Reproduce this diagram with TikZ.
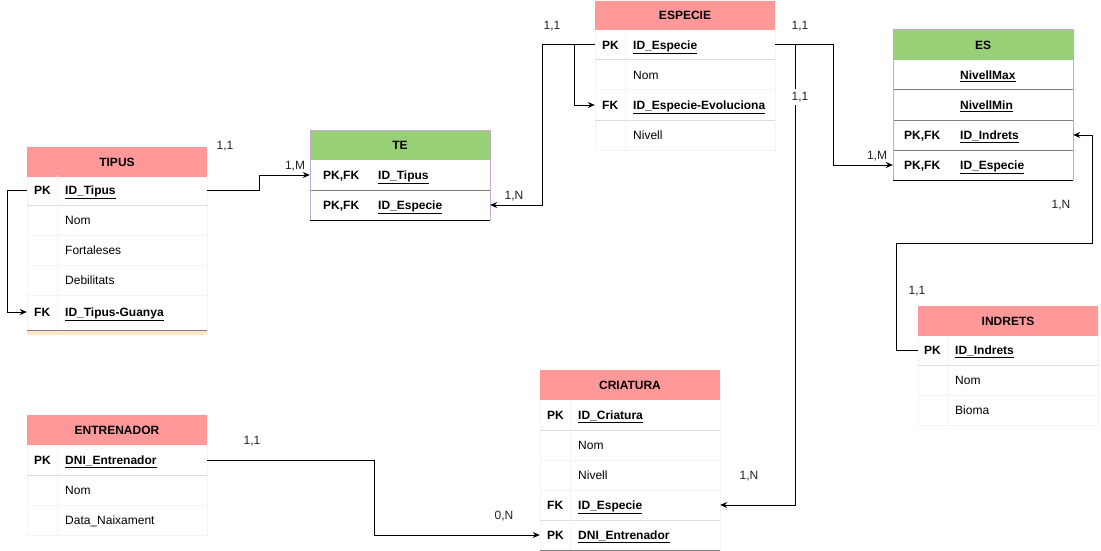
\documentclass[tikz,border=0pt]{standalone}
\usepackage{fontspec}
\setmainfont{Liberation Sans}
\usetikzlibrary{arrows.meta}
\definecolor{hdrpink}{HTML}{FF9999}
\definecolor{hdrgreen}{HTML}{97D077}
\definecolor{peach}{HTML}{FFE6CC}
\definecolor{lilac}{HTML}{C3ABD0}
\definecolor{sepgrey}{HTML}{DDDDDD}
\definecolor{faint}{HTML}{F4F4F4}
\definecolor{lbl}{HTML}{222222}
\newcommand\fs{\fontsize{12}{14}\selectfont}
\tikzset{
  rowbox/.style={rectangle, inner sep=0pt, minimum width=180pt, minimum height=30pt},
  hdrpinkbox/.style={rectangle, inner sep=0pt, minimum width=180pt, minimum height=30pt, fill=hdrpink, font=\fs\bfseries},
  hdrgreenbox/.style={rectangle, inner sep=0pt, minimum width=180pt, minimum height=30pt, fill=hdrgreen, font=\fs\bfseries},
  keytxt/.style={anchor=base west, inner sep=0pt, font=\fs\bfseries},
  valtxt/.style={anchor=base west, inner sep=0pt, font=\fs},
  conn/.style={draw=black, line width=1pt, -{Stealth[length=7pt,width=6pt]}},
  card/.style={inner sep=1pt, text=lbl, font=\fs},
  sepl/.style={draw=sepgrey, line width=1pt},
  faintl/.style={draw=faint, line width=1pt},
}
% name, left x, center y, height, key, value
\newcommand\erow[6]{%
  \node[rowbox, minimum height=#4pt] (#1) at (#2+90,#3) {};
  \node[keytxt] (#1-k) at (#2+\ko,#3+4.3) {#5};
  \node[valtxt] (#1-v) at (#2+\vo,#3+4.3) {#6};
}
\newcommand\uu[1]{\underline{\textbf{#1}}}
\begin{document}
\begin{tikzpicture}[x=1pt,y=-1pt,font=\fs]
\useasboundingbox[fill=white] (0,0) rectangle (1101,551);

%% ---------- TIPUS ----------
\def\ko{7}\def\vo{38}
\fill[peach] (27,330) rectangle (207,335);
\draw[faintl] (27,149) rectangle (207,330);
\node[hdrpinkbox] (tipus) at (117,162) {TIPUS};
\erow{tipus-pk}{27}{190}{30}{PK}{\uu{ID\_Tipus}}
\erow{tipus-nom}{27}{220}{30}{}{Nom}
\erow{tipus-fort}{27}{250}{30}{}{Fortaleses}
\erow{tipus-deb}{27}{280}{30}{}{Debilitats}
\erow{tipus-fk}{27}{312}{35}{FK}{\uu{ID\_Tipus-Guanya}}
\draw[sepl] (27,205) -- (207,205);
\draw[faintl] (27,235) -- (207,235) (27,265) -- (207,265) (27,295) -- (207,295);
\draw[faintl] (57,175) -- (57,330);
\draw[draw=gray, line width=1pt] (27,330) -- (207,330);

%% ---------- TE ----------
\def\ko{13}\def\vo{68}
\node[hdrgreenbox] (te) at (400,145) {TE};
\erow{te-t}{310}{175}{30}{PK,FK}{\uu{ID\_Tipus}}
\erow{te-e}{310}{205}{30}{PK,FK}{\uu{ID\_Especie}}
\draw[draw=gray, line width=1pt] (310,190) -- (490,190);
\draw[draw=lilac, line width=1pt] (310,220) -- (310,130) -- (490,130) -- (490,220);
\draw[draw=black, line width=1pt] (310,220) -- (490,220);

%% ---------- ESPECIE ----------
\def\ko{7}\def\vo{38}
\draw[faintl] (595,1) rectangle (775,150);
\node[hdrpinkbox, minimum height=29pt] (esp) at (685,15.5) {ESPECIE};
\erow{esp-pk}{595}{45}{30}{PK}{\uu{ID\_Especie}}
\erow{esp-nom}{595}{75}{30}{}{Nom}
\erow{esp-fk}{595}{105}{30}{FK}{\uu{ID\_Especie-Evoluciona}}
\erow{esp-niv}{595}{135}{30}{}{Nivell}
\draw[sepl] (595,60) -- (775,60) (595,120) -- (775,120);
\draw[faintl] (595,90) -- (775,90);
\draw[faintl] (625,30) -- (625,150);

%% ---------- ES ----------
\def\ko{11}\def\vo{67}
\node[hdrgreenbox] (es) at (983,45) {ES};
\erow{es-max}{893}{75}{30}{}{\uu{NivellMax}}
\erow{es-min}{893}{105}{30}{}{\uu{NivellMin}}
\erow{es-i}{893}{135}{30}{PK,FK}{\uu{ID\_Indrets}}
\erow{es-e}{893}{165}{30}{PK,FK}{\uu{ID\_Especie}}
\draw[draw=gray, line width=1pt] (893,90) -- (1073,90) (893,120) -- (1073,120) (893,150) -- (1073,150);
\draw[draw=lilac, line width=1pt] (893,180) -- (893,30) -- (1073,30) -- (1073,180);
\draw[draw=black, line width=1pt] (893,180) -- (1073,180);

%% ---------- INDRETS ----------
\def\ko{6}\def\vo{37}
\draw[faintl] (918,306) rectangle (1098,425);
\node[hdrpinkbox] (ind) at (1008,321) {INDRETS};
\erow{ind-pk}{918}{350}{30}{PK}{\uu{ID\_Indrets}}
\erow{ind-nom}{918}{380}{30}{}{Nom}
\erow{ind-bio}{918}{410}{30}{}{Bioma}
\draw[sepl] (918,365) -- (1098,365);
\draw[faintl] (918,395) -- (1098,395);
\draw[faintl] (947,336) -- (947,425);

%% ---------- ENTRENADOR ----------
\def\ko{7}\def\vo{38}
\draw[faintl] (27,415) rectangle (207,535);
\node[hdrpinkbox] (ent) at (117,430) {ENTRENADOR};
\erow{ent-pk}{27}{460}{30}{PK}{\uu{DNI\_Entrenador}}
\erow{ent-nom}{27}{490}{30}{}{Nom}
\erow{ent-data}{27}{520}{30}{}{Data\_Naixament}
\draw[sepl] (27,475) -- (207,475);
\draw[faintl] (27,505) -- (207,505);
\draw[faintl] (57,445) -- (57,535);

%% ---------- CRIATURA ----------
\def\ko{7}\def\vo{38}
\draw[faintl] (540,370) rectangle (720,550);
\node[hdrpinkbox] (cri) at (630,385) {CRIATURA};
\erow{cri-pk}{540}{415}{30}{PK}{\uu{ID\_Criatura}}
\erow{cri-nom}{540}{445}{30}{}{Nom}
\erow{cri-niv}{540}{475}{30}{}{Nivell}
\erow{cri-fk}{540}{505}{30}{FK}{\uu{ID\_Especie}}
\erow{cri-dni}{540}{535}{30}{PK}{\uu{DNI\_Entrenador}}
\draw[sepl] (540,430) -- (720,430) (540,520) -- (720,520);
\draw[faintl] (540,460) -- (720,460) (540,490) -- (720,490);
\draw[faintl] (570,400) -- (570,550);
\draw[draw=gray, line width=1pt] (540,550) -- (720,550);

%% ---------- connectors ----------
\coordinate (c1) at (1092,243);
\draw[conn] (tipus-pk.east) -- ++(52,0) |- (te-t.west);
\draw[conn] (tipus-pk.west) -- ++(-19,0) |- (tipus-fk.west);
\draw[conn] (esp-pk.west) -- ++(-52,0) |- (te-e.east);
\draw[conn] (esp-pk.west) -- ++(-20,0) |- (esp-fk.west);
\draw[conn] (esp-pk.east) -- ++(58,0) |- (es-e.west);
\draw[conn] (esp-pk.east) -- ++(20,0) |- (cri-fk.east);
\draw[conn] (ind-pk.west) -- ++(-21,0) |- (c1) |- (es-i.east);
\draw[conn] (ent-pk.east) -- ++(167,0) |- (cri-dni.west);

%% ---------- cardinalities ----------
\node[card] (l1) at (225,146) {1,1};
\node[card] (l2) at (295,166) {1,M};
\node[card] (l3) at (552,26) {1,1};
\node[card] (l4) at (514,196) {1,N};
\node[card] (l5) at (800,26) {1,1};
\node[card, fill=white, inner sep=3pt] (l6) at (800,97) {1,1};
\node[card] (l7) at (877,156) {1,M};
\node[card] (l8) at (1061,205) {1,N};
\node[card] (l9) at (917,291) {1,1};
\node[card] (l10) at (252,441) {1,1};
\node[card] (l11) at (504,516) {0,N};
\node[card] (l12) at (749,476) {1,N};
\end{tikzpicture}
\end{document}
